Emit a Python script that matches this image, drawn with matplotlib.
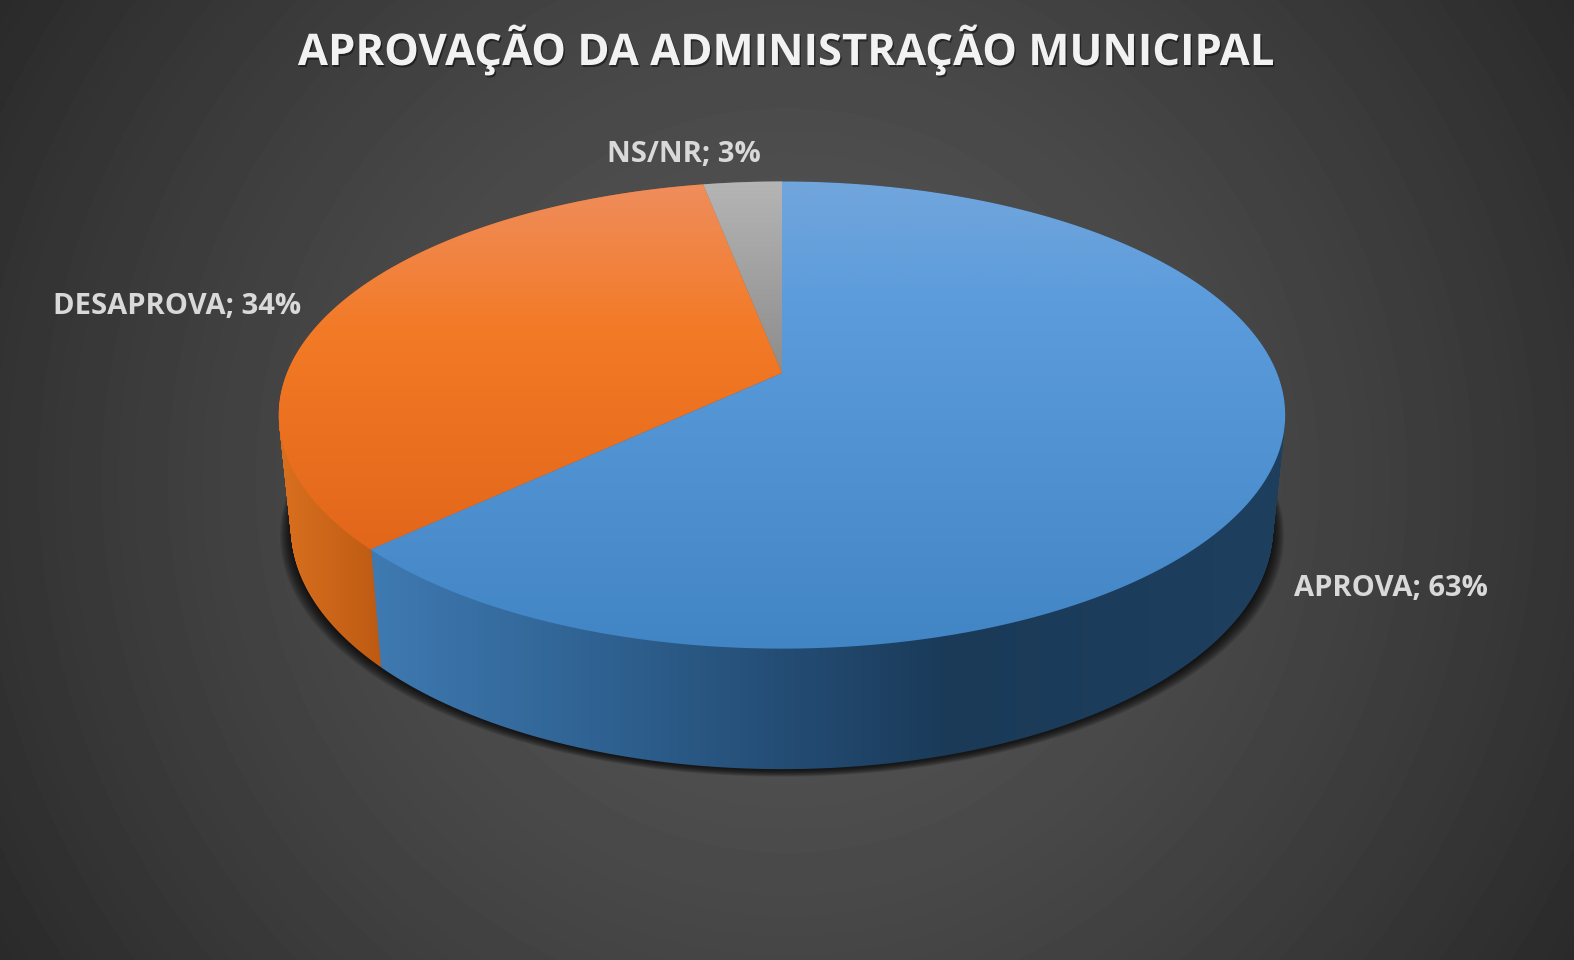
import numpy as np
import matplotlib
matplotlib.use("Agg")
import matplotlib.pyplot as plt
from matplotlib.patches import Polygon, PathPatch
from matplotlib.path import Path
from matplotlib.colors import to_rgb
import matplotlib.patheffects as pe

title_text = "APROVAÇÃO DA ADMINISTRAÇÃO MUNICIPAL"
categories = ["APROVA", "DESAPROVA", "NS/NR"]
values = [63, 34, 3]

W, H = 1574, 960
CX, CY, K = 782, 373, 0.18
TOP_A, TOP_B = 495, 226
BOT_A, BOT_B, BOT_Y = 483, 233, 485

top_stops = [
    [(180, "#72a6dc"), (300, "#5c9cdc"), (650, "#4285c5")],
    [(185, "#ef8d5c"), (330, "#f37a26"), (555, "#e2661a")],
    [(180, "#b5b5b5"), (375, "#8c8c8c")],
]
side_stops = [
    [(370, "#3f7ab2"), (600, "#2f6292"), (800, "#234b72"), (950, "#1a3a58"), (1280, "#1f3f5f")],
    [(280, "#d9701f"), (382, "#bd5a13")],
    [(700, "#777777"), (780, "#777777")],
]


def project(theta, level=0.0):
    a = TOP_A + (BOT_A - TOP_A) * level
    b = TOP_B + (BOT_B - TOP_B) * level
    y0 = CY + (BOT_Y - CY) * level
    u, v = np.sin(theta), np.cos(theta)
    w = 1 + K * v
    return CX + a * u / w, y0 - b * v / w, y0


def gradient(ax, stops, patch, vertical):
    pos = np.array([s[0] for s in stops], float)
    cols = np.array([to_rgb(s[1]) for s in stops])
    n = H if vertical else W
    c = np.arange(n) + 0.5
    line = np.stack([np.interp(c, pos, cols[:, i]) for i in range(3)], axis=-1)
    img = line[:, None, :] if vertical else line[None, :, :]
    im = ax.imshow(img, extent=(0, W, H, 0), aspect="auto", interpolation="bilinear", zorder=patch.get_zorder())
    ax.add_patch(patch)
    patch.set_visible(False)
    im.set_clip_path(patch)


fig = plt.figure(figsize=(W / 100, H / 100), dpi=100)
ax = fig.add_axes([0, 0, 1, 1])
ax.set_axis_off()

yy, xx = np.mgrid[0:H, 0:W]
d = np.hypot(xx - W / 2, yy - H / 2) / np.hypot(W / 2, H / 2)
bg = 0x56 - (0x56 - 0x2a) * d ** 1.5
ax.imshow(np.clip(bg / 255, 0, 1), cmap="gray", vmin=0, vmax=1, extent=(0, W, H, 0), aspect="auto", zorder=0)

full = np.linspace(0, 2 * np.pi, 400)
# soft shadow under the pie
bx, by, _ = project(full, 1.0)
for grow in np.linspace(11, 0, 12):
    ax.add_patch(Polygon(np.c_[CX + (bx - CX) * (1 + grow / 490), by + grow * 0.6 + 1],
                         closed=True, fc="black", ec="none", alpha=0.09, zorder=1))

fractions = np.array(values, float) / sum(values)
edges = np.concatenate([[0], np.cumsum(fractions)]) * 2 * np.pi

# side wall: the wedge swept from the top face down to the bottom face
for i in reversed(range(len(values))):
    t = np.linspace(edges[i], edges[i + 1], 200)
    parts = []
    for level in np.linspace(0, 1, 70):
        tx, ty, y0 = project(t, level)
        parts.append(Path(np.r_[[[CX, y0]], np.c_[tx, ty], [[CX, y0]]], closed=True))
    gradient(ax, side_stops[i], PathPatch(Path.make_compound_path(*parts), zorder=2), vertical=False)

for i in range(len(values)):
    t = np.linspace(edges[i], edges[i + 1], 240)
    tx, ty, _ = project(t)
    surf = np.r_[[[CX, CY]], np.c_[tx, ty]]
    gradient(ax, top_stops[i], Polygon(surf, closed=True, zorder=3), vertical=True)

ax.set_xlim(0, W)
ax.set_ylim(H, 0)

ax.text(786, 50, title_text, family="Open Sans", weight="bold", fontsize=31.4, color="#f2f2f2",
        ha="center", va="center", zorder=5,
        path_effects=[pe.withSimplePatchShadow(offset=(1, -1.5), alpha=0.45, shadow_rgbFace="black")])

label_xy = [(1391, 589), (177, 306), (684, 154)]
for name, val, (x, y) in zip(categories, values, label_xy):
    ax.text(x, y, f"{name}; {val}%", family="Open Sans", weight="bold", fontsize=21, color="#d9d9d9",
            ha="center", va="center", zorder=5)

fig.savefig("out.png", dpi=100, facecolor="#333333")
